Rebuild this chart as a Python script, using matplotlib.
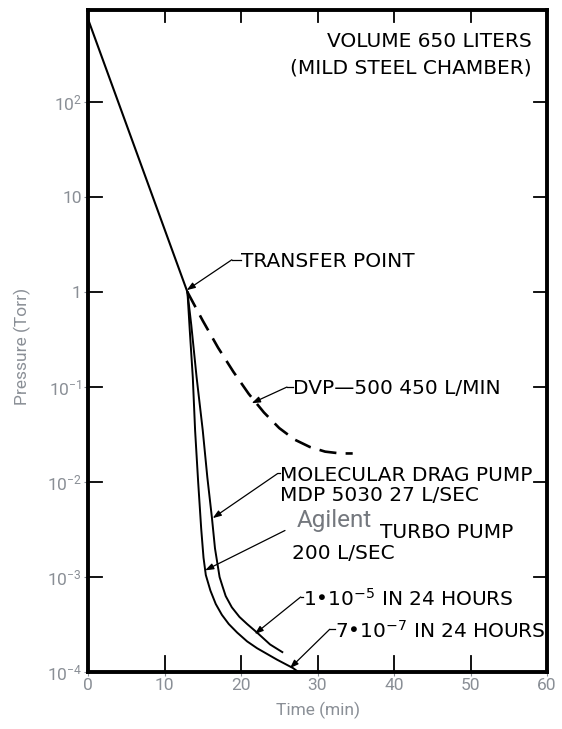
import matplotlib
matplotlib.use("Agg")
import matplotlib.pyplot as plt

# ------------------------------------------------------------
# data
# ------------------------------------------------------------
rough_x = [0, 13]
rough_p = [750, 1.0]

dvp_x = [13, 15, 17, 19, 21, 23, 25, 27, 29, 31, 33, 34.6]
dvp_p = [1.0, 0.50, 0.26, 0.145, 0.085, 0.054, 0.037, 0.028, 0.0234, 0.0209, 0.020, 0.020]

mdp_x = [13, 13.5, 14.2, 15.0, 15.6, 16.2, 16.6, 17.2, 17.6, 18.0, 18.8, 19.8, 20.8, 22.1,
         23.8, 25.4]
mdp_p = [1.0, 0.45, 0.126, 0.035, 0.0112, 0.0042, 0.0020, 0.0010, 0.00079, 0.00063,
         0.00048, 0.00038, 0.00032, 0.00026, 0.000195, 0.000162]

turbo_x = [13, 13.3, 13.7, 14.0, 14.4, 14.8, 15.1, 15.4, 16.0, 16.7, 17.5, 18.4, 19.5, 20.8,
           22.1, 24.7, 26.8, 27.5]
turbo_p = [1.0, 0.40, 0.126, 0.035, 0.010, 0.0032, 0.0016, 0.00105, 0.00072, 0.00052,
           0.0004, 0.00032, 0.00026, 0.00021, 0.000178, 0.000135, 0.00011, 0.0001]

xticks = [0, 10, 20, 30, 40, 50, 60]
yticks = [1e-4, 1e-3, 1e-2, 1e-1, 1, 10, 100]
ytick_labels = ["$10^{-4}$", "$10^{-3}$", "$10^{-2}$", "$10^{-1}$", "1", "10", "$10^{2}$"]

# annotation texts (label, text x, text log-y, tail x, tip x, tip log-y)
notes = [
    ("TRANSFER POINT", 20.0, 0.32, 18.8, 12.9, 0.02),
    ("DVP\u2014500 450 L/MIN", 26.8, -1.02, 26.0, 21.4, -1.17),
    ("MOLECULAR DRAG PUMP", 25.1, -1.93, 24.8, 16.3, -2.38),
    ("1\u202210$^{-5}$ IN 24 HOURS", 28.1, -3.23, 27.8, 21.8, -3.60),
    ("7\u202210$^{-7}$ IN 24 HOURS", 32.3, -3.57, 31.6, 26.4, -3.96),
]

GRAY = "#8a8f96"
ANN_FONT = "DejaVu Sans"
ANN_SIZE = 14.5

plt.rcParams["mathtext.default"] = "regular"
fig = plt.figure(figsize=(5.62, 7.29), dpi=100)
ax = fig.add_axes([88 / 562, 1 - 672 / 729, 459 / 562, 662 / 729])

ax.set_yscale("log")
ax.set_xlim(0, 60)
ax.set_ylim(1e-4, 10 ** 2.97)

# curves
ax.plot(rough_x, rough_p, color="black", lw=1.5, solid_capstyle="round")
ax.plot(dvp_x, dvp_p, color="black", lw=1.9, dashes=(6.5, 3.5))
ax.plot(mdp_x, mdp_p, color="black", lw=1.4, solid_joinstyle="round")
ax.plot(turbo_x, turbo_p, color="black", lw=1.4, solid_joinstyle="round")

# frame
for s in ax.spines.values():
    s.set_linewidth(2.8)
    s.set_color("black")

# gray outward ticks + labels
ax.set_xticks(xticks)
ax.set_yticks(yticks)
ax.set_yticklabels(ytick_labels)
ax.yaxis.set_minor_locator(matplotlib.ticker.NullLocator())
ax.tick_params(axis="both", which="major", direction="out", length=3, width=0.8,
               color=GRAY, labelcolor=GRAY, labelsize=12.5, pad=1.5)
for lab in ax.get_xticklabels() + ax.get_yticklabels():
    lab.set_fontfamily("Roboto")

# black inward ticks from the original drawing
for y in yticks[1:]:
    ax.axhline(y, xmin=0, xmax=0.03, color="black", lw=1.3)
    ax.axhline(y, xmin=0.972, xmax=1, color="black", lw=1.3)
for x in xticks[1:-1]:
    ax.axvline(x, ymin=0, ymax=0.024, color="black", lw=1.3)
    ax.axvline(x, ymin=0.982, ymax=1, color="black", lw=1.3)

ax.set_xlabel("Time (min)", color=GRAY, fontsize=12.5, family="Roboto", labelpad=6)
ax.set_ylabel("Pressure (Torr)", color=GRAY, fontsize=12.5, family="Roboto")
ax.yaxis.set_label_coords(-0.125, 0.492)

# header text
ax.text(58.0, 10 ** 2.64, "VOLUME 650 LITERS", fontsize=ANN_SIZE, family=ANN_FONT,
        ha="right", va="center")
ax.text(58.0, 10 ** 2.36, "(MILD STEEL CHAMBER)", fontsize=ANN_SIZE, family=ANN_FONT,
        ha="right", va="center")

arrow_kw = dict(arrowstyle="-|>,head_length=0.5,head_width=0.18", color="black",
                lw=0.9, shrinkA=0, shrinkB=0)

for text, tx, ty, tail_x, px, py in notes:
    ax.text(tx, 10 ** ty, text, fontsize=ANN_SIZE, family=ANN_FONT, ha="left", va="center")
    tail_y = 10 ** (ty + 0.02)
    ax.annotate("", xy=(px, 10 ** py), xytext=(tail_x, tail_y), arrowprops=arrow_kw)
    ax.plot([tail_x, tx - 0.05], [tail_y, tail_y], color="black", lw=0.9)

ax.text(25.1, 10 ** -2.14, "MDP 5030 27 L/SEC", fontsize=ANN_SIZE, family=ANN_FONT,
        ha="left", va="center")

# turbo pump label with the Agilent name
ax.text(27.3, 10 ** -2.40, "Agilent", fontsize=17.5, family="Roboto",
        color="#74787e", ha="left", va="center")
ax.text(38.2, 10 ** -2.53, "TURBO PUMP", fontsize=ANN_SIZE, family=ANN_FONT,
        ha="left", va="center")
ax.text(26.7, 10 ** -2.75, "200 L/SEC", fontsize=ANN_SIZE, family=ANN_FONT,
        ha="left", va="center")
ax.annotate("", xy=(15.3, 10 ** -2.93), xytext=(25.75, 10 ** -2.51), arrowprops=arrow_kw)

fig.savefig("out.png", dpi=100)
